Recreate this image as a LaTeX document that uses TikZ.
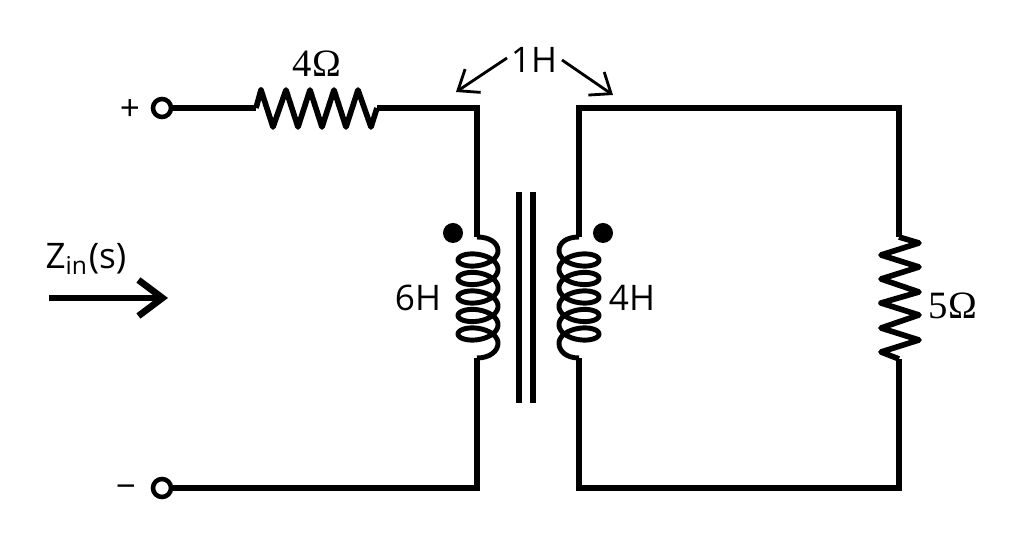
\documentclass[tikz,border=0pt]{standalone}
\usepackage{fontspec}
\setmainfont{Open Sans}
\newfontfamily\ohmfont{Liberation Serif}
\usetikzlibrary{arrows.meta}
\tikzset{
  wire/.style={line width=1.6pt, line join=miter},
  zigzag/.style={line width=1.6pt, line join=round},
  terminal/.style={circle, draw, line width=1.3pt, minimum size=0.18cm, inner sep=0pt},
  dotmark/.style={circle, fill=black, minimum size=0.2cm, inner sep=0pt},
  coil/.style={line width=1.4pt, line join=round},
  pointer/.style={line width=0.8pt, -{Straight Barb[length=1.8mm, width=2.8mm, line width=0.8pt]}},
  label/.style={inner sep=0pt, font=\fontsize{10pt}{12pt}\selectfont},
  sign/.style={inner sep=0pt, font=\fontsize{10pt}{12pt}\selectfont},
  ohmlabel/.style={inner sep=0pt, font=\ohmfont\fontsize{11pt}{12pt}\selectfont},
}
\begin{document}
\begin{tikzpicture}[x=0.01cm, y=-0.01cm]
\useasboundingbox (0,0) rectangle (1014,537);
% terminals
\node[terminal] (tp) at (162,108) {};
\node[terminal] (tm) at (162,488) {};
\node[sign] (plus) at (130,110) {+};
\node[sign] (minus) at (126,492) {−};
%
\coordinate (r1a) at (256,108);
\coordinate (r1b) at (377,108);
\coordinate (tl) at (477,108);
\coordinate (ltop) at (477,237);
\coordinate (lbot) at (477,358);
\coordinate (bl) at (477,488);
\coordinate (rtop) at (579,237);
\coordinate (rbot) at (579,358);
\coordinate (tr) at (579,108);
\coordinate (br) at (579,488);
\coordinate (cr) at (899,108);
\coordinate (dr) at (899,488);
\coordinate (r2a) at (899,237);
\coordinate (r2b) at (899,359);
% primary
\draw[wire] (tp) -- (r1a);
\draw[zigzag] (r1a) -- (261,90) -- (273,127) -- (286,90) -- (298,127) -- (310,90) -- (322,127)
  -- (334,90) -- (346,127) -- (358,90) -- (371,127) -- (r1b);
\draw[wire] (r1b) -- (tl) -- (ltop);
\draw[wire] (lbot) -- (bl) -- (tm);
% secondary
\draw[wire] (rtop) -- (tr) -- (cr) -- (r2a);
\draw[zigzag] (r2a) -- (919,243) -- (881,255) -- (919,267) -- (881,279)
  -- (919,292) -- (881,303) -- (919,315) -- (881,328) -- (919,340) -- (881,352) -- (r2b);
\draw[wire] (r2b) -- (dr) -- (br) -- (rbot);
% coils
\draw[coil] (ltop) .. controls (490,237) and (498,243) .. (498,250.75)
  -- plot[domain=0:1800, samples=361, variable=\t] ({478+20*cos(\t)},{250.75+\t/360*18.5+10.3*sin(\t)})
  .. controls (498,351) and (490,358) .. (lbot);
\draw[coil] (rtop) .. controls (566,237) and (559,243) .. (559,250.75)
  -- plot[domain=0:1800, samples=361, variable=\t] ({579-20*cos(\t)},{250.75+\t/360*18.5+10.3*sin(\t)})
  .. controls (559,351) and (566,358) .. (rbot);
% core
\coordinate (c1a) at (519,192);
\coordinate (c1b) at (519,403);
\coordinate (c2a) at (533,192);
\coordinate (c2b) at (533,403);
\draw[wire] (c1a) -- (c1b);
\draw[wire] (c2a) -- (c2b);
% dots
\node[dotmark] (dl) at (453,233) {};
\node[dotmark] (dr2) at (603,233) {};
% labels
\node[ohmlabel] (r1) at (317,64) {4Ω};
\node[ohmlabel] (r2) at (953,306) {5Ω};
\node[label] (ll) at (418,298) {6H};
\node[label] (lr) at (632,298) {4H};
\node[label] (m) at (534,60) {1H};
\coordinate (mla) at (507,58);
\coordinate (mlb) at (456,92);
\coordinate (mra) at (562,60);
\coordinate (mrb) at (613,95);
\draw[pointer] (mla) -- (mlb);
\draw[pointer] (mra) -- (mrb);
% input impedance
\node[label] (z) at (86,259) {Z\textsubscript{in}(s)};
\coordinate (za) at (49,298);
\coordinate (zb) at (168,298);
\draw[line width=1.9pt, -{Straight Barb[length=2.4mm, width=3.6mm, line width=1.9pt]}] (za) -- (zb);
%
\end{tikzpicture}
\end{document}
